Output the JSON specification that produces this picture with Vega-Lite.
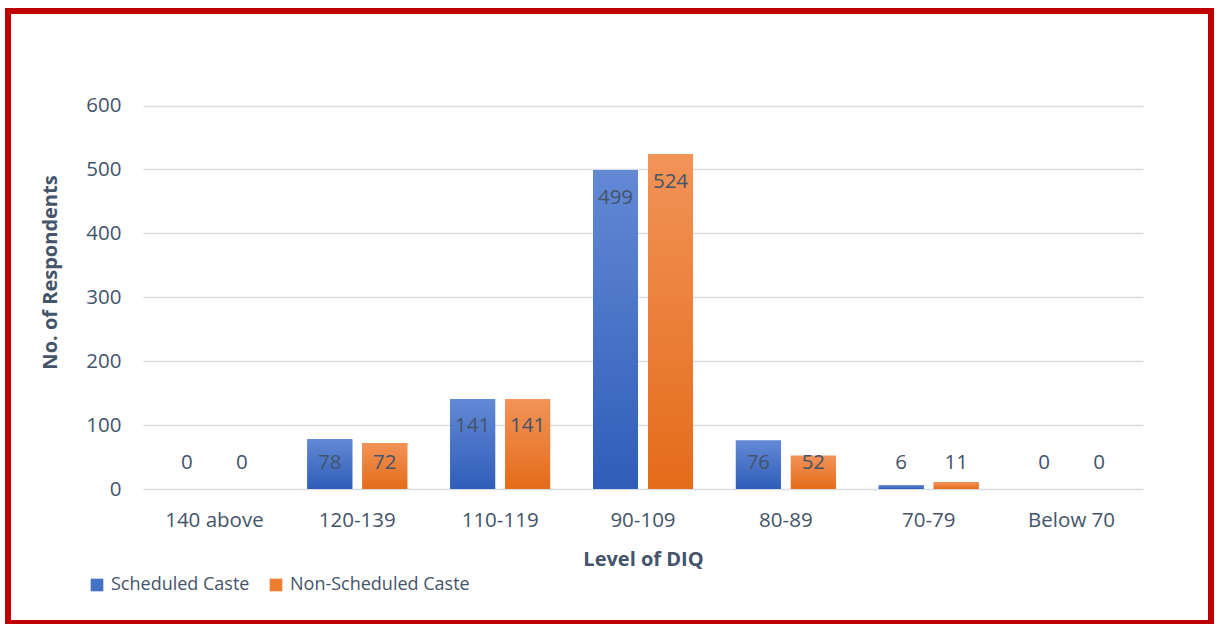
{
  "$schema": "https://vega.github.io/schema/vega-lite/v6.json",
  "width": 1203,
  "height": 612,
  "autosize": {"type": "none"},
  "padding": {"left": 8, "top": 11, "right": 8, "bottom": 1},
  "background": "white",
  "config": {
    "font": "Open Sans",
    "view": {"stroke": "#C00000", "strokeWidth": 6, "fill": "white"}
  },
  "data": {
    "values": [
      {"level": "140 above", "caste": "Scheduled Caste", "n": 0},
      {"level": "140 above", "caste": "Non-Scheduled Caste", "n": 0},
      {"level": "120-139", "caste": "Scheduled Caste", "n": 78},
      {"level": "120-139", "caste": "Non-Scheduled Caste", "n": 72},
      {"level": "110-119", "caste": "Scheduled Caste", "n": 141},
      {"level": "110-119", "caste": "Non-Scheduled Caste", "n": 141},
      {"level": "90-109", "caste": "Scheduled Caste", "n": 499},
      {"level": "90-109", "caste": "Non-Scheduled Caste", "n": 524},
      {"level": "80-89", "caste": "Scheduled Caste", "n": 76},
      {"level": "80-89", "caste": "Non-Scheduled Caste", "n": 52},
      {"level": "70-79", "caste": "Scheduled Caste", "n": 6},
      {"level": "70-79", "caste": "Non-Scheduled Caste", "n": 11},
      {"level": "Below 70", "caste": "Scheduled Caste", "n": 0},
      {"level": "Below 70", "caste": "Non-Scheduled Caste", "n": 0}
    ]
  },
  "encoding": {
    "x": {
      "field": "level",
      "type": "nominal",
      "sort": ["140 above", "120-139", "110-119", "90-109", "80-89", "70-79", "Below 70"],
      "scale": {"range": [135, 1135], "paddingInner": 0, "paddingOuter": 0},
      "axis": {
        "title": "Level of DIQ",
        "offset": -134,
        "domain": false,
        "ticks": false,
        "tickSize": 0,
        "grid": false,
        "labelAngle": 0,
        "labelPadding": 21,
        "labelFontSize": 20.5,
        "labelColor": "#44546A",
        "titleFontSize": 20,
        "titleFontWeight": "bold",
        "titleColor": "#44546A",
        "titleY": 76,
        "titleBaseline": "alphabetic"
      }
    },
    "xOffset": {
      "field": "caste",
      "type": "nominal",
      "sort": ["Scheduled Caste", "Non-Scheduled Caste"],
      "scale": {"paddingInner": 0.1818, "paddingOuter": 0.39}
    },
    "y": {
      "field": "n",
      "type": "quantitative",
      "scale": {"domain": [0, 600], "range": [478, 94.5], "nice": false},
      "axis": {
        "title": "No. of Respondents",
        "values": [0, 100, 200, 300, 400, 500, 600],
        "offset": -135,
        "domain": false,
        "ticks": false,
        "tickSize": 0,
        "labelPadding": 22,
        "labelFontSize": 20.5,
        "labelColor": "#44546A",
        "grid": true,
        "gridColor": "#D9DCE1",
        "gridWidth": 1.3,
        "titleFontSize": 20,
        "titleFontWeight": "bold",
        "titleColor": "#44546A",
        "titleAngle": 270,
        "titleAlign": "center",
        "titleBaseline": "alphabetic",
        "titleX": -87,
        "titleY": 261
      }
    }
  },
  "layer": [
    {
      "mark": {"type": "bar"},
      "encoding": {
        "color": {
          "field": "caste",
          "type": "nominal",
          "sort": ["Scheduled Caste", "Non-Scheduled Caste"],
          "scale": {"domain": ["Scheduled Caste", "Non-Scheduled Caste"], "range": ["#4472C4", "#ED7D31"]},
          "legend": {
            "orient": "none",
            "legendX": 80,
            "legendY": 565,
            "direction": "horizontal",
            "title": null,
            "symbolType": "square",
            "symbolSize": 160,
            "symbolStrokeWidth": 0,
            "labelFontSize": 18,
            "labelColor": "#44546A",
            "labelOffset": 5,
            "labelLimit": 400,
            "columnPadding": 17,
            "padding": 0
          }
        }
      }
    },
    {
      "transform": [{"filter": "datum.caste === 'Scheduled Caste'"}],
      "mark": {
        "type": "bar",
        "fill": {
          "gradient": "linear", "x1": 0, "y1": 0, "x2": 0, "y2": 1,
          "stops": [{"offset": 0, "color": "#6389D5"}, {"offset": 1, "color": "#2F5DB8"}]
        }
      }
    },
    {
      "transform": [{"filter": "datum.caste === 'Non-Scheduled Caste'"}],
      "mark": {
        "type": "bar",
        "fill": {
          "gradient": "linear", "x1": 0, "y1": 0, "x2": 0, "y2": 1,
          "stops": [{"offset": 0, "color": "#F29358"}, {"offset": 1, "color": "#E46C1A"}]
        }
      }
    },
    {
      "transform": [{"filter": "datum.n >= 85"}],
      "mark": {"type": "text", "fontSize": 20.5, "color": "#44546A", "baseline": "middle", "dy": 27.5},
      "encoding": {"text": {"field": "n", "type": "quantitative"}}
    },
    {
      "transform": [{"filter": "datum.n < 85"}],
      "mark": {"type": "text", "fontSize": 20.5, "color": "#44546A", "baseline": "middle", "dy": -26.5},
      "encoding": {
        "y": {"datum": 0, "type": "quantitative"},
        "text": {"field": "n", "type": "quantitative"}
      }
    }
  ]
}
